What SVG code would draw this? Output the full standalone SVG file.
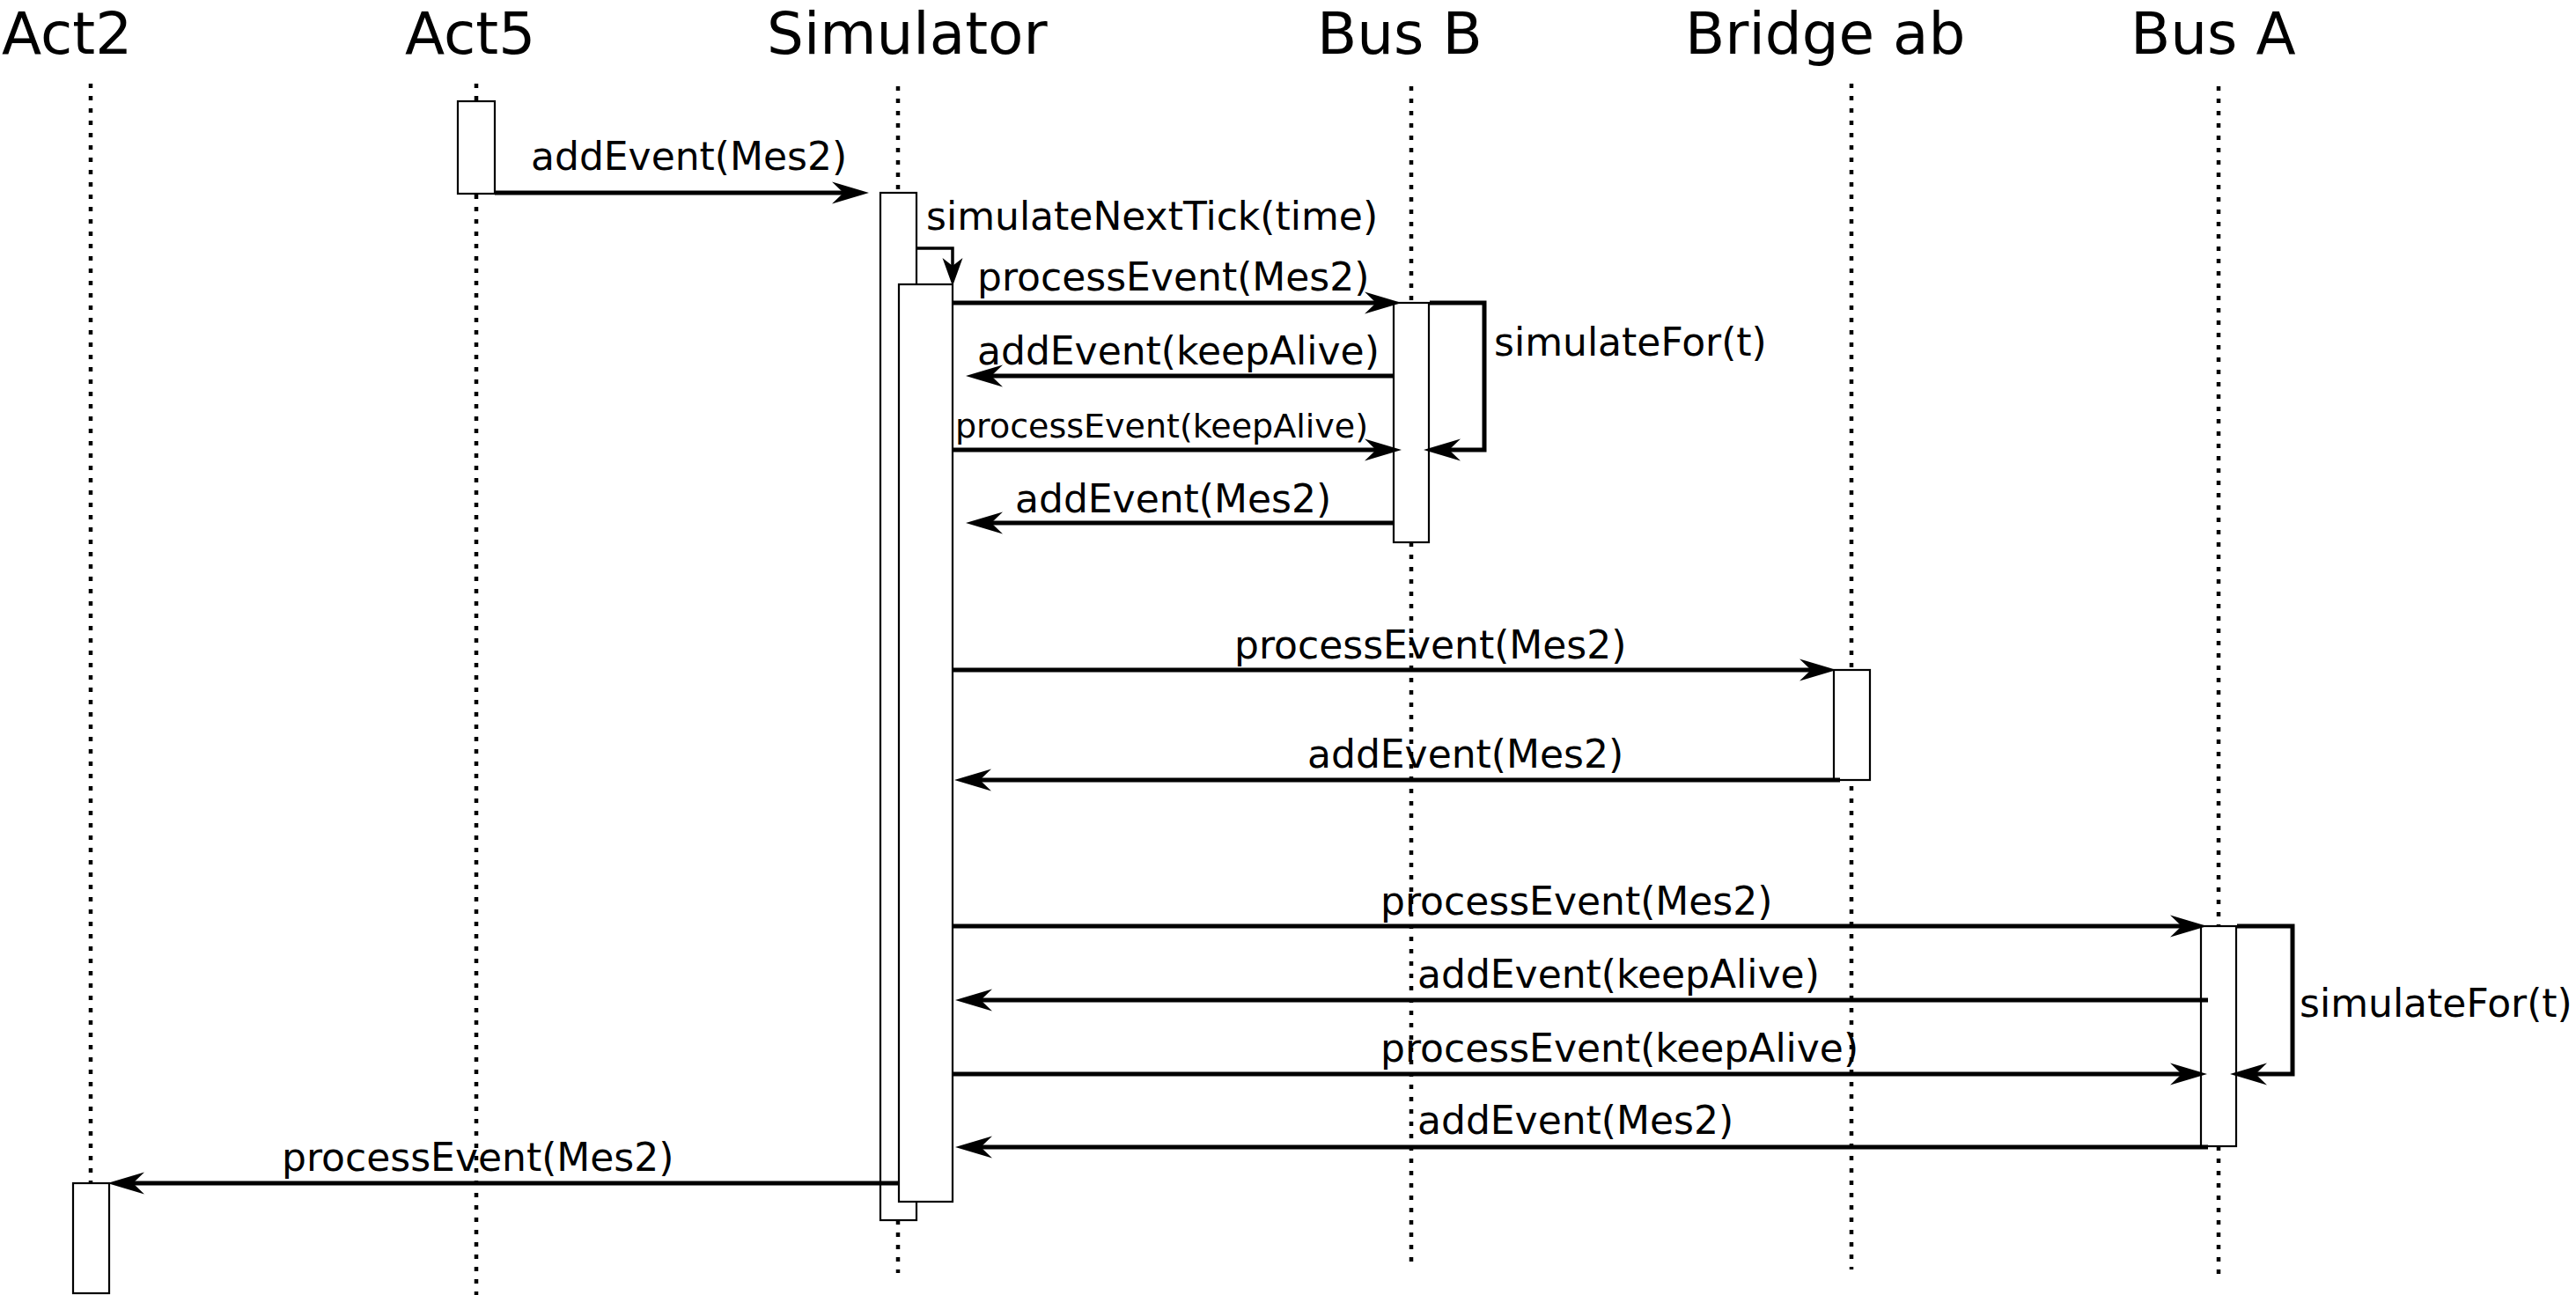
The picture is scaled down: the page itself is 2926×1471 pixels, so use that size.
<svg xmlns="http://www.w3.org/2000/svg" width="2926" height="1471" viewBox="0 0 2926 1471">
<style>
.title{font-family:"DejaVu Sans","Liberation Sans",sans-serif;font-size:66px;fill:#000}
.lbl{font-family:"DejaVu Sans","Liberation Sans",sans-serif;font-size:44px;fill:#000}
.sm{font-size:38px}
.life{stroke:#000;stroke-width:4.5;stroke-dasharray:5 9;fill:none}
.act{fill:#fff;stroke:#000;stroke-width:2.2}
.msg{fill:none;stroke:#000;stroke-width:5;marker-end:url(#arr)}
.self{fill:none;stroke:#000;stroke-width:3.5;marker-end:url(#arrs)}
</style>
<defs>
<marker id="arr" markerUnits="userSpaceOnUse" viewBox="0 0 42 26" markerWidth="42" markerHeight="26" refX="28" refY="13" orient="auto">
<path d="M0,0.5 L42,13 L0,25.5 L13,13 Z" fill="#000"/>
</marker>
<marker id="arrs" markerUnits="userSpaceOnUse" viewBox="0 0 32 24" markerWidth="32" markerHeight="24" refX="22" refY="12" orient="auto">
<path d="M0,0.5 L32,12 L0,23.5 L9,12 Z" fill="#000"/>
</marker>
</defs>
<rect width="2926" height="1471" fill="#fff"/>
<g id="act2">
<text class="title" x="2" y="61">Act2</text>
<line class="life" x1="103" y1="95" x2="103" y2="1344"/>
<rect class="act" x="83" y="1344" width="41" height="125"/>
</g>
<g id="act5">
<text class="title" x="460" y="61">Act5</text>
<line class="life" x1="541" y1="95" x2="541" y2="1471"/>
<rect class="act" x="520" y="115" width="42" height="105"/>
</g>
<g id="simulator">
<text class="title" x="871" y="61">Simulator</text>
<line class="life" x1="1020" y1="98" x2="1020" y2="1446"/>
<rect class="act" x="1000" y="219" width="41" height="1167"/>
<rect class="act" x="1021" y="323" width="61" height="1042"/>
</g>
<g id="busB">
<text class="title" x="1496" y="61">Bus B</text>
<line class="life" x1="1603" y1="98" x2="1603" y2="1442"/>
<rect class="act" x="1583" y="344" width="40" height="272"/>
</g>
<g id="bridgeAB">
<text class="title" x="1914" y="61">Bridge ab</text>
<line class="life" x1="2103" y1="95" x2="2103" y2="1442"/>
<rect class="act" x="2083" y="761" width="41" height="125"/>
</g>
<g id="busA">
<text class="title" x="2420" y="61">Bus A</text>
<line class="life" x1="2520" y1="98" x2="2520" y2="1448"/>
<rect class="act" x="2500" y="1052" width="40" height="250"/>
</g>
<g id="connectors">
<path class="msg" d="M562,219 H973"/>
<path class="self" d="M1042,282 H1082 V315"/>
<path class="msg" d="M1082,344 H1578"/>
<path class="msg" d="M1624,344 H1686 V511 H1631"/>
<path class="msg" d="M1583,427 H1111"/>
<path class="msg" d="M1082,511 H1578"/>
<path class="msg" d="M1583,594 H1111"/>
<path class="msg" d="M1082,761 H2072"/>
<path class="msg" d="M2090,886 H1098"/>
<path class="msg" d="M1082,1052 H2493"/>
<path class="msg" d="M2541,1052 H2604 V1220 H2547"/>
<path class="msg" d="M2508,1136 H1099"/>
<path class="msg" d="M1082,1220 H2493"/>
<path class="msg" d="M2508,1303 H1099"/>
<path class="msg" d="M1020,1344 H136"/>
</g>
<g id="labels">
<text class="lbl" x="603" y="193">addEvent(Mes2)</text>
<text class="lbl" x="1052" y="261">simulateNextTick(time)</text>
<text class="lbl" x="1110" y="330">processEvent(Mes2)</text>
<text class="lbl" x="1697" y="404">simulateFor(t)</text>
<text class="lbl" x="1110" y="414">addEvent(keepAlive)</text>
<text class="lbl sm" x="1085" y="497">processEvent(keepAlive)</text>
<text class="lbl" x="1153" y="582">addEvent(Mes2)</text>
<text class="lbl" x="1402" y="748">processEvent(Mes2)</text>
<text class="lbl" x="1485" y="872">addEvent(Mes2)</text>
<text class="lbl" x="1568" y="1039">processEvent(Mes2)</text>
<text class="lbl" x="1610" y="1122">addEvent(keepAlive)</text>
<text class="lbl" x="2612" y="1155">simulateFor(t)</text>
<text class="lbl" x="1568" y="1206">processEvent(keepAlive)</text>
<text class="lbl" x="1610" y="1288">addEvent(Mes2)</text>
<text class="lbl" x="320" y="1330">processEvent(Mes2)</text>
</g>
</svg>
